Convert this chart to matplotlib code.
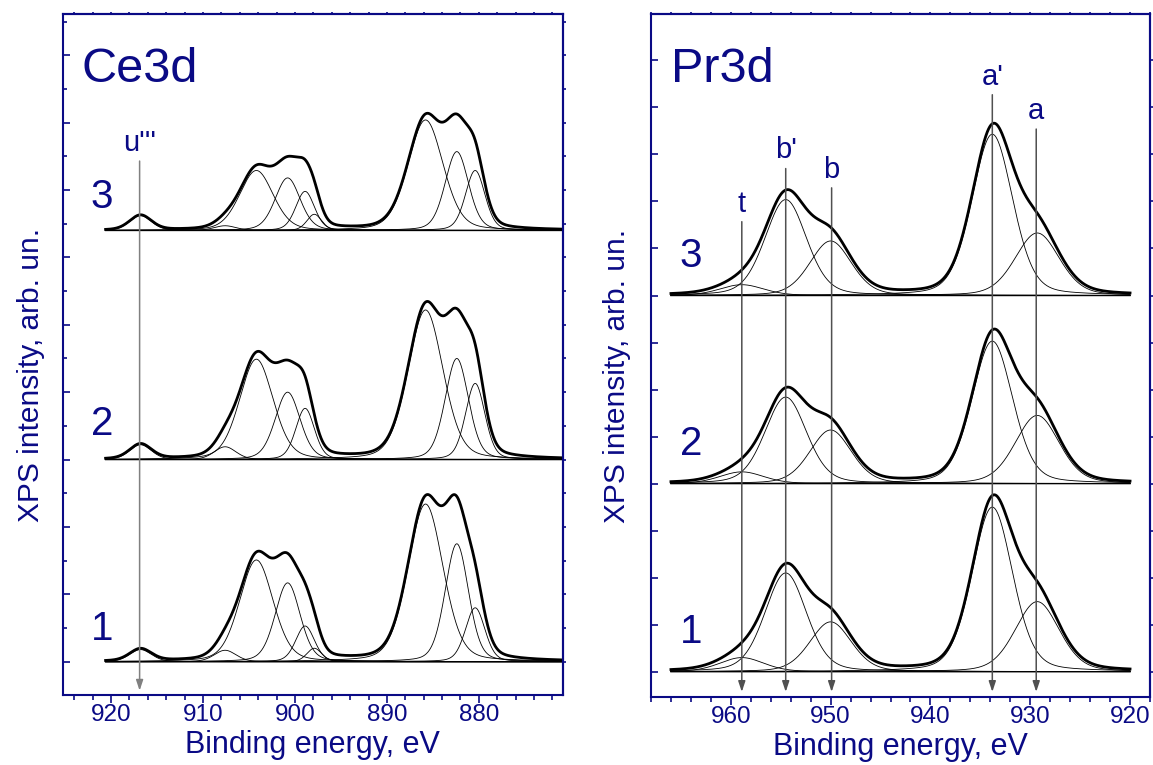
import numpy as np
import matplotlib
matplotlib.use("Agg")
import matplotlib.pyplot as plt
from matplotlib.ticker import MultipleLocator

# ================= STYLE ================= #
NAVY = "#0a0a85"
plt.rcParams["font.family"] = ["Liberation Sans", "DejaVu Sans"]

# ================= DATA: Ce3d ================= #
ce_centers = [916.8, 907.6, 904.2, 900.8, 898.9, 897.9, 885.8, 882.4, 880.4]
ce_fwhm    = [2.8, 2.8, 4.3, 3.2, 2.4, 1.9, 4.5, 3.0, 2.5]
ce_h1 = [0.18, 0.17, 1.51, 1.17, 0.53, 0.20, 2.34, 1.75, 0.80]
ce_h2 = [0.22, 0.19, 1.49, 1.00, 0.76, 0.00, 2.22, 1.50, 1.13]
ce_h3 = [0.22, 0.07, 0.89, 0.78, 0.58, 0.24, 1.64, 1.17, 0.89]
ce_offsets = [0.0, 3.0, 6.4]
ce_range = (920.6, 871.0)
ce_num_pos = [(921.0, 0.49), (921.0, 3.53), (921.0, 6.90)]
ce_mark_E = [916.9]
ce_mark_lbl = ["u'''"]
ce_mark_top = [7.43]

# ================= DATA: Pr3d ================= #
pr_centers = [958.9, 954.5, 950.0, 933.8, 929.3]
pr_fwhm    = [5.2, 4.9, 4.9, 4.8, 5.2]
pr_h1 = [0.30, 2.10, 1.06, 3.50, 1.49]
pr_h2 = [0.25, 1.84, 1.14, 3.03, 1.45]
pr_h3 = [0.23, 2.04, 1.16, 3.43, 1.33]
pr_offsets = [0.0, 4.0, 8.0]
pr_range = (966.0, 920.0)
pr_num_pos = [(964.0, 0.84), (964.0, 4.84), (964.0, 8.84)]
pr_mark_E = [958.9, 954.5, 949.9, 933.8, 929.4]
pr_mark_lbl = ["t", "b'", "b", "a'", "a"]
pr_mark_top = [9.57, 10.70, 10.29, 12.27, 11.54]

ETA = 0.25  # lorentzian fraction of the fit components


def pv(x, c, h, w):
    g = np.exp(-4 * np.log(2) * (x - c) ** 2 / w ** 2)
    l = 1.0 / (1 + 4 * (x - c) ** 2 / w ** 2)
    return h * ((1 - ETA) * g + ETA * l)


def draw_panel(ax, centers, fwhm, heights, offsets, xr, num_pos):
    x = np.linspace(xr[0], xr[1], 1500)
    for hs, off in zip(heights, offsets):
        total = np.zeros_like(x)
        for c, w, h in zip(centers, fwhm, hs):
            if h <= 0:
                continue
            comp = pv(x, c, h, w)
            total += comp
            ax.plot(x, comp + off, color="black", lw=0.6)
        ax.plot(x, np.full_like(x, off), color="black", lw=1.0)
        ax.plot(x, total + off, color="black", lw=2.0)
    for i, (xe, ye) in enumerate(num_pos):
        ax.text(xe, ye, str(i + 1), color=NAVY, fontsize=29,
                ha="center", va="center")


def style_axes(ax, xlim, ylim, yminor, ylab_x):
    ax.set_xlim(*xlim)
    ax.set_ylim(*ylim)
    ax.xaxis.set_major_locator(MultipleLocator(10))
    ax.xaxis.set_minor_locator(MultipleLocator(2))
    ax.yaxis.set_major_locator(MultipleLocator(1))
    if yminor:
        ax.yaxis.set_minor_locator(MultipleLocator(yminor))
    for s in ax.spines.values():
        s.set_color(NAVY)
        s.set_linewidth(1.5)
    ax.tick_params(axis="x", which="major", direction="out", length=5.5,
                   width=1.2, color=NAVY, labelcolor=NAVY, labelsize=17.5,
                   pad=1)
    ax.tick_params(axis="x", which="minor", direction="out", length=3.5,
                   width=1.2, color=NAVY)
    ax.tick_params(axis="y", which="major", direction="in", length=5,
                   width=1.2, color=NAVY, labelleft=False)
    ax.tick_params(axis="y", which="minor", direction="in", length=3,
                   width=1.2, color=NAVY)
    ax.set_xlabel("Binding energy, eV", color=NAVY, fontsize=22, labelpad=3)
    ax.set_ylabel("XPS intensity, arb. un.", color=NAVY, fontsize=21.5)
    ax.yaxis.set_label_coords(ylab_x, 0.47)

    # tiny ticks on the right and top spines
    sec_y = ax.secondary_yaxis("right")
    sec_y.yaxis.set_major_locator(MultipleLocator(1))
    if yminor:
        sec_y.yaxis.set_minor_locator(MultipleLocator(yminor))
    sec_y.tick_params(which="both", direction="out", length=1.8, width=1.2,
                      color=NAVY, labelright=False)
    sec_y.spines["right"].set_color(NAVY)
    sec_y.spines["right"].set_linewidth(1.5)
    sec_x = ax.secondary_xaxis("top")
    sec_x.xaxis.set_major_locator(MultipleLocator(10))
    sec_x.xaxis.set_minor_locator(MultipleLocator(2))
    sec_x.tick_params(which="both", direction="out", length=1.8, width=1.2,
                      color=NAVY, labeltop=False)
    sec_x.spines["top"].set_color(NAVY)
    sec_x.spines["top"].set_linewidth(1.5)


def draw_marks(ax, energies, labels, tops, tip, color, fs=21):
    for e, lbl, top in zip(energies, labels, tops):
        ax.annotate("", xy=(e, tip), xytext=(e, top),
                    arrowprops=dict(arrowstyle="-|>,head_length=0.45,head_width=0.15",
                                    color=color, lw=1.1, mutation_scale=14,
                                    shrinkA=0, shrinkB=0))
        ax.annotate(lbl, xy=(e, top), xytext=(0, 3), textcoords="offset points",
                    ha="center", va="bottom", color=NAVY, fontsize=fs)


fig = plt.figure(figsize=(11.53, 7.65), dpi=100)
ax1 = fig.add_axes([0.0549, 0.0915, 0.433, 0.890])
ax2 = fig.add_axes([0.5646, 0.0889, 0.4328, 0.893])

# ---- Ce3d ----
draw_panel(ax1, ce_centers, ce_fwhm, [ce_h1, ce_h2, ce_h3], ce_offsets,
           ce_range, ce_num_pos)
style_axes(ax1, (925.2, 870.9), (-0.494, 9.61), 0.5, -0.036)
draw_marks(ax1, ce_mark_E, ce_mark_lbl, ce_mark_top, -0.43, "#808080")
ax1.text(0.153, 0.918, "Ce3d", transform=ax1.transAxes, color=NAVY,
         fontsize=35, ha="center", va="center")

# ---- Pr3d ----
draw_panel(ax2, pr_centers, pr_fwhm, [pr_h1, pr_h2, pr_h3], pr_offsets,
           pr_range, pr_num_pos)
style_axes(ax2, (968.0, 918.0), (-0.538, 13.99), None, -0.041)
draw_marks(ax2, pr_mark_E, pr_mark_lbl, pr_mark_top, -0.43, "#505050")
ax2.text(0.142, 0.918, "Pr3d", transform=ax2.transAxes, color=NAVY,
         fontsize=35, ha="center", va="center")

fig.savefig("out.png", dpi=100)
